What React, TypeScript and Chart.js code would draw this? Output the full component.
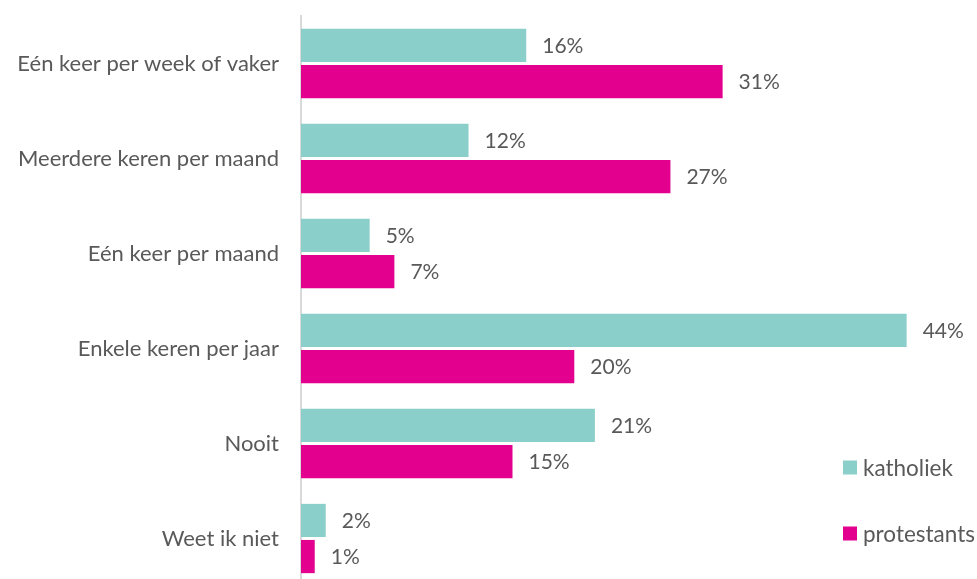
import React, { useEffect, useRef } from "react";
import { Chart, registerables } from "chart.js";

Chart.register(...registerables);

const categories = [
  "Eén keer per week of vaker",
  "Meerdere keren per maand",
  "Eén keer per maand",
  "Enkele keren per jaar",
  "Nooit",
  "Weet ik niet",
];
const seriesNames = ["katholiek", "protestants"];
const katholiek = [16.4, 12.2, 5.0, 44.1, 21.4, 1.8];
const protestants = [30.7, 26.9, 6.8, 19.9, 15.4, 1.0];
const seriesColors = ["#8BCFCA", "#E3008F"];

const TEXT = "#595959";
const FONT = "Lato, 'Open Sans', sans-serif";

export default function App() {
  const ref = useRef<HTMLCanvasElement | null>(null);
  useEffect(() => {
    if (!ref.current) return;
    const labelPlugin = {
      id: "valueLabels",
      afterDatasetsDraw(chart: any) {
        const ctx = chart.ctx;
        ctx.save();
        ctx.font = `21px ${FONT}`;
        ctx.fillStyle = TEXT;
        ctx.textAlign = "left";
        ctx.textBaseline = "middle";
        chart.data.datasets.forEach((ds: any, di: number) => {
          const meta = chart.getDatasetMeta(di);
          meta.data.forEach((bar: any, i: number) => {
            const v = ds.data[i] as number;
            ctx.fillText(Math.round(v) + "%", bar.x + 16, bar.y + 1);
          });
        });
        ctx.restore();
      },
    };
    const legendPlugin = {
      id: "customLegend",
      afterDraw(chart: any) {
        const ctx = chart.ctx;
        ctx.save();
        ctx.font = `22.5px ${FONT}`;
        ctx.textAlign = "left";
        ctx.textBaseline = "middle";
        const ys = [467.5, 533.5];
        chart.data.datasets.forEach((ds: any, i: number) => {
          ctx.fillStyle = ds.backgroundColor;
          ctx.fillRect(843, ys[i] - 7, 14, 14);
          ctx.fillStyle = TEXT;
          ctx.fillText(ds.label, 863, ys[i] + 1);
        });
        ctx.restore();
      },
    };
    const chart = new Chart(ref.current, {
      type: "bar",
      data: {
        labels: categories,
        datasets: [
          { label: seriesNames[0], data: katholiek, backgroundColor: seriesColors[0] },
          { label: seriesNames[1], data: protestants, backgroundColor: seriesColors[1] },
        ],
      },
      options: {
        indexAxis: "y",
        responsive: false,
        animation: false,
        maintainAspectRatio: false,
        datasets: { bar: { categoryPercentage: 0.76, barPercentage: 0.92 } },
        layout: { padding: { top: 16, bottom: 4, right: 58, left: 0 } },
        plugins: { legend: { display: false }, tooltip: { enabled: false } },
        scales: {
          x: { display: false, min: 0, max: 45 },
          y: {
            grid: { display: false, drawTicks: false },
            border: { display: true, color: "#D9D9D9", width: 2 },
            ticks: { color: TEXT, font: { family: FONT, size: 22 }, padding: 22 },
            afterFit(axis: any) {
              axis.width = 301;
              axis.paddingTop = 0;
              axis.paddingBottom = 0;
            },
          },
        },
      },
      plugins: [labelPlugin, legendPlugin],
    });
    return () => chart.destroy();
  }, []);
  return (
    <div style={{ position: "fixed", left: 0, top: 0, width: 977, height: 579, overflow: "hidden", background: "#fff" }}>
      <canvas ref={ref} width={977} height={590} style={{ width: 977, height: 590, display: "block" }} />
    </div>
  );
}
